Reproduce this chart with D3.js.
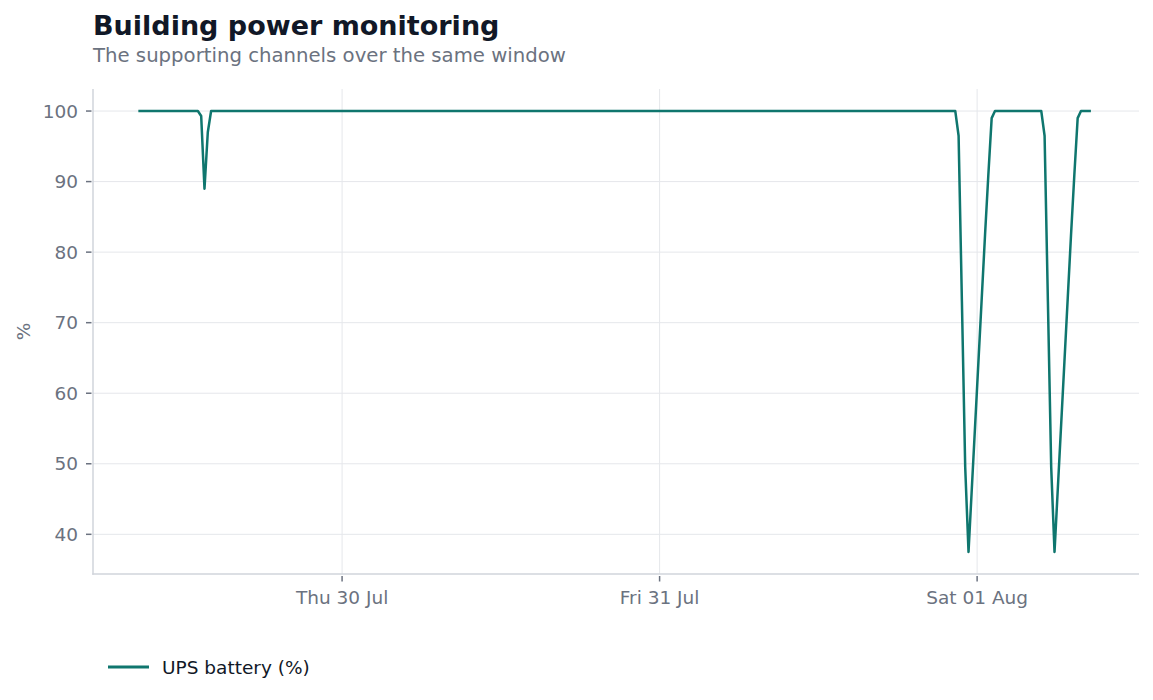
<!DOCTYPE html>
<html>
<head>
<meta charset="utf-8">
<script src="https://cdn.jsdelivr.net/npm/d3@7"></script>
<style>
  html, body { margin: 0; padding: 0; background: #ffffff; }
  svg { display: block; font-family: "DejaVu Sans", sans-serif; }
</style>
</head>
<body>
<svg id="chart" width="1153" height="700"></svg>
<script>
// ---- Data ----
const seriesName = "UPS battery (%)";
const startTime = new Date(2026, 6, 29, 8, 36);   // first sample (local time)
const sampleMinutes = 15;                          // sampling interval
// sample index (15-min steps from start) at each breakpoint of the trace
const sampleIndex = [0, 18, 19, 20, 21, 22,
  247, 248, 249, 250, 251, 252, 253, 254, 255, 256, 257, 258, 259,
  273, 274, 275, 276, 277, 278, 279, 280, 281, 282, 283, 284, 285, 288];
const batteryPct = [100, 100, 99.3, 89, 97, 100,
  100, 96.5, 73, 49.5, 37.5, 46.5, 55.5, 64.5, 73.5, 82.5, 91, 99, 100,
  100, 96.5, 73, 49.5, 37.5, 46.5, 55.5, 64.5, 73.5, 82.5, 91, 99, 100, 100];
const yTicks = [40, 50, 60, 70, 80, 90, 100];

const data = sampleIndex.map((k, i) => ({
  t: new Date(startTime.getTime() + k * sampleMinutes * 60000),
  v: batteryPct[i]
}));

// ---- Layout ----
const svg = d3.select("#chart");
const m = { left: 93, right: 1139, top: 89, bottom: 574 };

const tMin = d3.min(data, d => d.t), tMax = d3.max(data, d => d.t);
const span = tMax - tMin;
const x = d3.scaleTime()
  .domain([new Date(+tMin - span * 0.0476), new Date(+tMax + span * 0.0505)])
  .range([m.left, m.right]);

const vMin = d3.min(batteryPct), vMax = d3.max(batteryPct);
const vPad = (vMax - vMin) * 0.05;
const y = d3.scaleLinear()
  .domain([vMin - vPad, vMax + vPad])
  .range([m.bottom, m.top]);

const grey = "#6b7280";

// Title
svg.append("text").attr("x", 93).attr("y", 35)
  .attr("font-size", 27).attr("font-weight", "bold").attr("fill", "#111827")
  .text("Building power monitoring");
svg.append("text").attr("x", 93).attr("y", 62)
  .attr("font-size", 19.7).attr("fill", grey)
  .text("The supporting channels over the same window");

// Grid
const xTicks = x.ticks(d3.timeDay.every(1));
svg.append("g").selectAll("line").data(yTicks).join("line")
  .attr("x1", m.left).attr("x2", m.right)
  .attr("y1", d => y(d)).attr("y2", d => y(d))
  .attr("stroke", "#e5e7eb").attr("stroke-width", 1);
svg.append("g").selectAll("line").data(xTicks).join("line")
  .attr("x1", d => x(d)).attr("x2", d => x(d))
  .attr("y1", m.top).attr("y2", m.bottom)
  .attr("stroke", "#e5e7eb").attr("stroke-width", 1);

// Axis lines
svg.append("line").attr("x1", m.left).attr("x2", m.left)
  .attr("y1", m.top).attr("y2", m.bottom + 0.75)
  .attr("stroke", "#d1d5db").attr("stroke-width", 1.5);
svg.append("line").attr("x1", m.left - 0.75).attr("x2", m.right)
  .attr("y1", m.bottom).attr("y2", m.bottom)
  .attr("stroke", "#d1d5db").attr("stroke-width", 1.5);

// Y ticks
const yt = svg.append("g").selectAll("g").data(yTicks).join("g")
  .attr("transform", d => `translate(0,${y(d)})`);
yt.append("line").attr("x1", 86).attr("x2", 91.5)
  .attr("stroke", grey).attr("stroke-width", 1.5);
yt.append("text").attr("x", 78).attr("dy", "0.36em")
  .attr("text-anchor", "end").attr("font-size", 18.5).attr("fill", grey)
  .text(d => d);

// X ticks
const fmt = d3.timeFormat("%a %d %b");
const xt = svg.append("g").selectAll("g").data(xTicks).join("g")
  .attr("transform", d => `translate(${x(d)},0)`);
xt.append("line").attr("y1", 576).attr("y2", 581.5)
  .attr("stroke", grey).attr("stroke-width", 1.5);
xt.append("text").attr("y", 604).attr("text-anchor", "middle")
  .attr("font-size", 18.5).attr("fill", grey)
  .text(d => fmt(d));

// Y label
svg.append("text")
  .attr("transform", `translate(30,${(m.top + m.bottom) / 2}) rotate(-90)`)
  .attr("text-anchor", "middle").attr("font-size", 18.5).attr("fill", grey)
  .text("%");

// Line
const line = d3.line().x(d => x(d.t)).y(d => y(d.v));
svg.append("path").datum(data)
  .attr("d", line)
  .attr("fill", "none").attr("stroke", "#0f766e")
  .attr("stroke-width", 2.5).attr("stroke-linejoin", "round");

// Legend
svg.append("line").attr("x1", 108).attr("x2", 149)
  .attr("y1", 667).attr("y2", 667)
  .attr("stroke", "#0f766e").attr("stroke-width", 3);
svg.append("text").attr("x", 162).attr("y", 673.5)
  .attr("font-size", 18.5).attr("fill", "#111827")
  .text(seriesName);
</script>
</body>
</html>
